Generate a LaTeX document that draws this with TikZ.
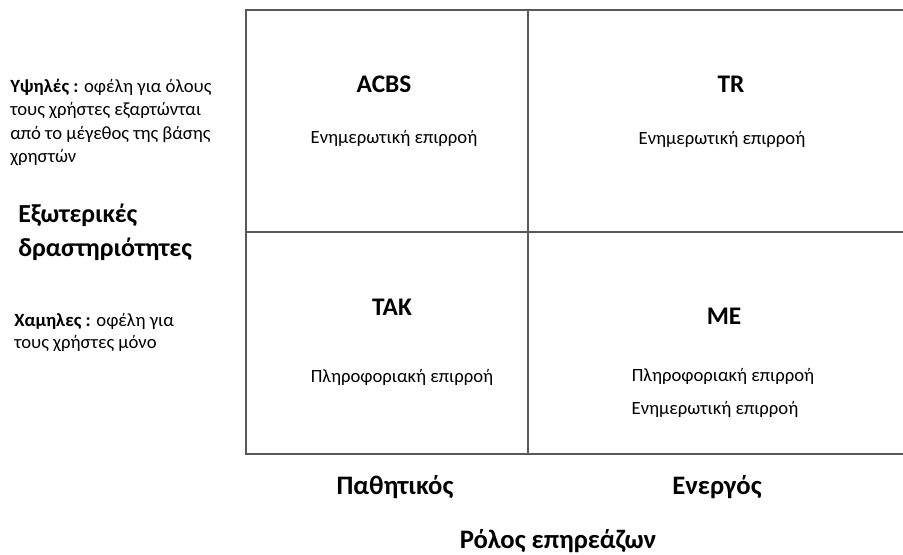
\documentclass[tikz,border=0pt]{standalone}
\usepackage{fontspec}
\setmainfont{Carlito}
\begin{document}
\begin{tikzpicture}[x=0.75pt,y=-0.75pt,
  grid/.style={draw=black!65,line width=1.5pt},
  cellhead/.style={font=\fontsize{19}{22}\selectfont\bfseries,inner sep=0pt,anchor=base},
  celltext/.style={font=\fontsize{14}{17}\selectfont,inner sep=0pt,anchor=base},
  axislabel/.style={font=\fontsize{20}{24}\selectfont\bfseries,inner sep=0pt,anchor=base},
  sidehead/.style={font=\fontsize{19.5}{24}\selectfont\bfseries,inner sep=0pt,anchor=base west},
  sidetext/.style={font=\fontsize{14}{17}\selectfont,inner sep=0pt,anchor=base west}]
\useasboundingbox (0,0) rectangle (903,554);
% matrix frame
\coordinate (tl) at (246,10);
\coordinate (tm) at (528,10);
\coordinate (tr) at (903,10);
\coordinate (ml) at (246,232);
\coordinate (mr) at (903,232);
\coordinate (bl) at (246,454);
\coordinate (bm) at (528,454);
\coordinate (br) at (903,454);
\draw[grid] (tr) -- (tl) -- (bl) -- (br);
\draw[grid] (ml) -- (mr);
\draw[grid] (tm) -- (bm);
% cells
\node[cellhead] (acbs) at (384,92) {ACBS};
\node[celltext] (acbsinf) at (394,143) {Ενημερωτική επιρροή};
\node[cellhead] (trh) at (731,92) {TR};
\node[celltext] (trinf) at (722,144) {Ενημερωτική επιρροή};
\node[cellhead] (tak) at (392,315) {TAK};
\node[celltext] (takinf) at (402,382) {Πληροφοριακή επιρροή};
\node[cellhead] (me) at (724,324) {ME};
\node[celltext] (meinfa) at (723,381) {Πληροφοριακή επιρροή};
\node[celltext] (meinfb) at (715,414) {Ενημερωτική επιρροή};
% axis labels
\node[axislabel] (pass) at (395,494) {Παθητικός};
\node[axislabel] (act) at (717,494) {Ενεργός};
\node[axislabel] (role) at (558,548) {Ρόλος επηρεάζων};
\node[sidehead] (exta) at (18,222) {Εξωτερικές};
\node[sidehead] (extb) at (18,256) {δραστηριότητες};
\node[sidetext] (higha) at (10,92) {\textbf{Υψηλές :} οφέλη για όλους};
\node[sidetext] (highb) at (10,115.5) {τους χρήστες εξαρτώνται};
\node[sidetext] (highc) at (10,139) {από το μέγεθος της βάσης};
\node[sidetext] (highd) at (10,162.5) {χρηστών};
\node[sidetext] (lowa) at (14,326) {\textbf{Χαμηλες :} οφέλη για};
\node[sidetext] (lowb) at (14,348) {τους χρήστες μόνο};
\end{tikzpicture}
\end{document}
